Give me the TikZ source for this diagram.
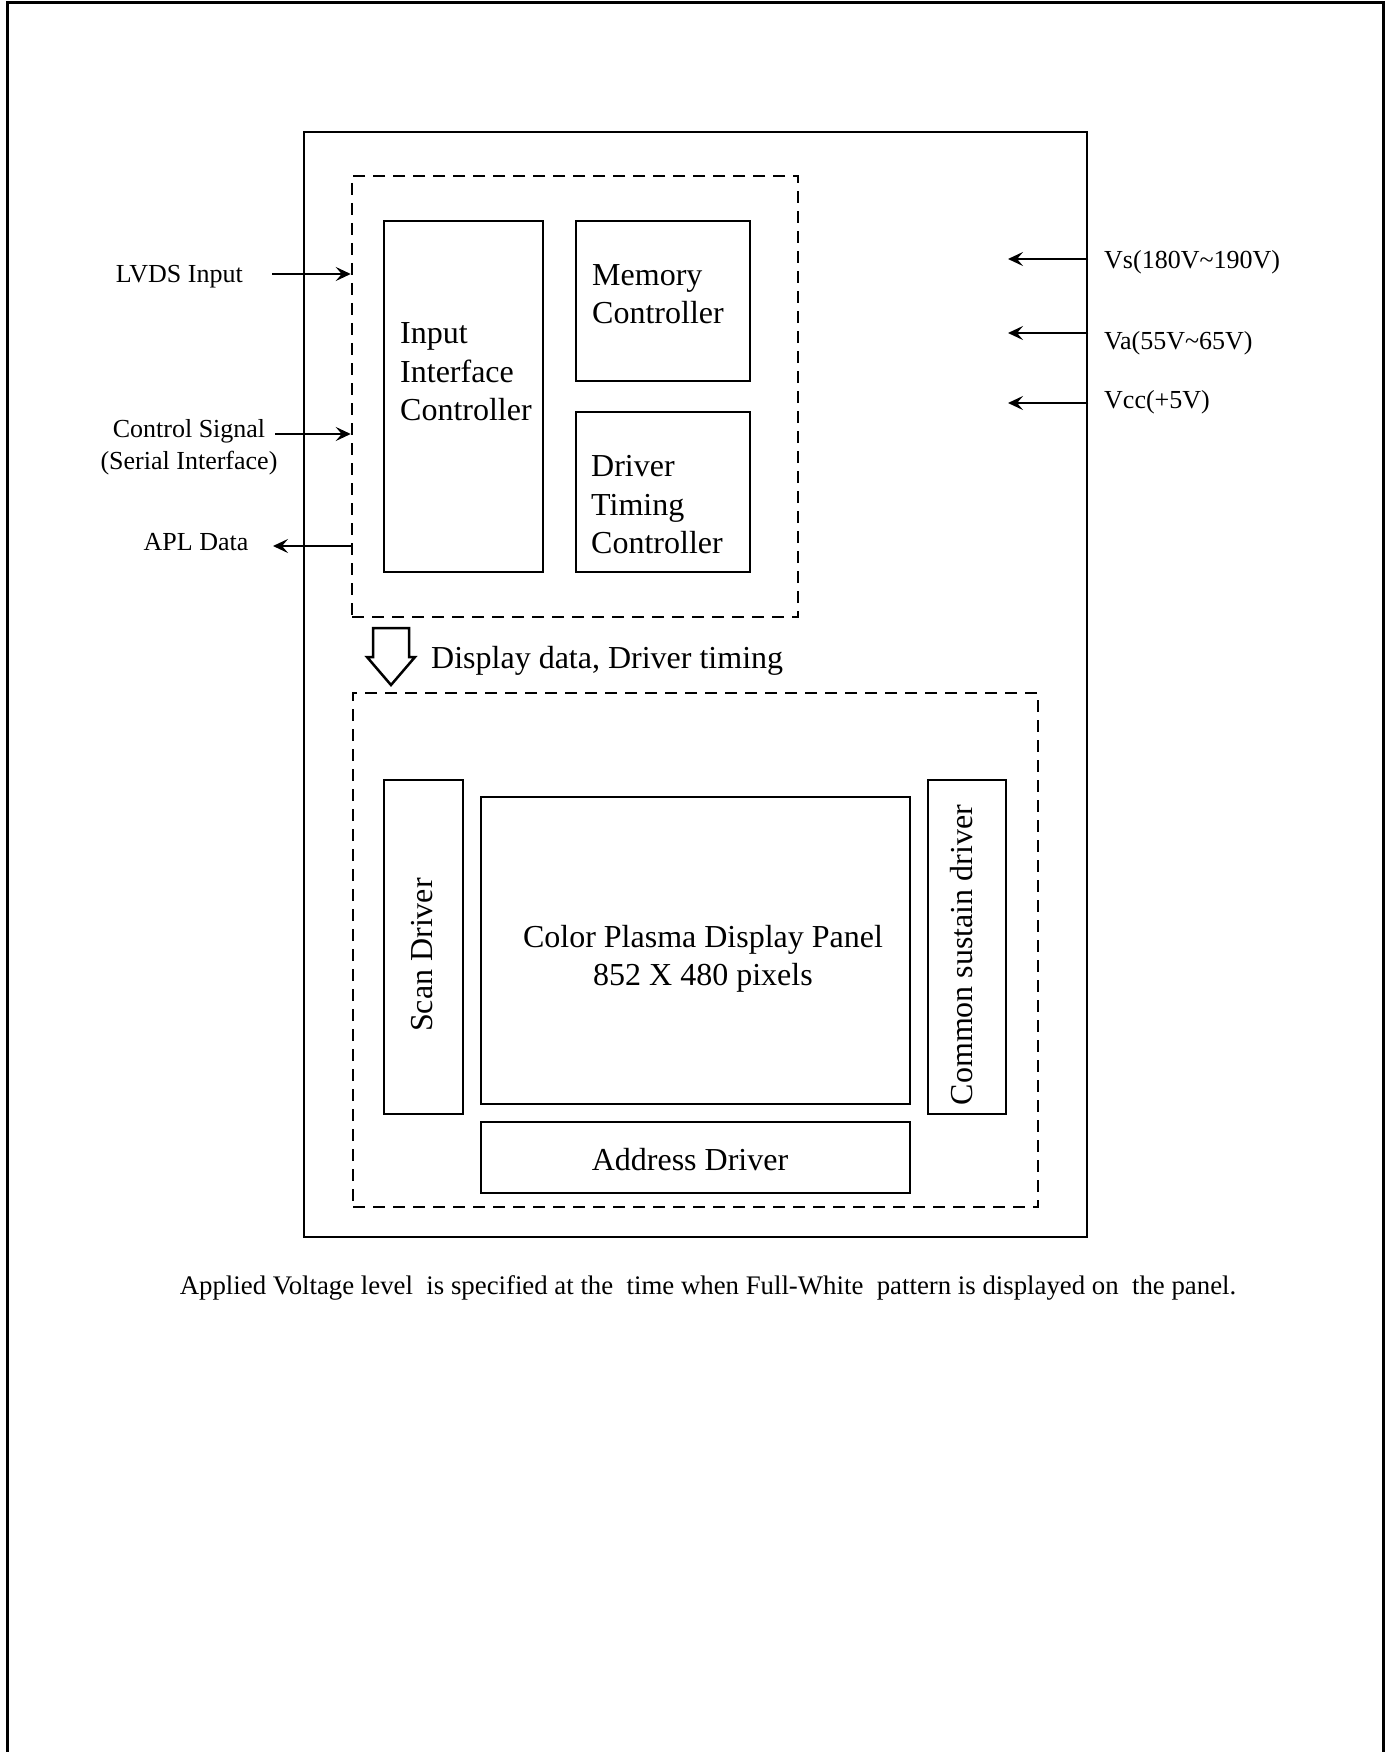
\documentclass[tikz,border=0pt]{standalone}
\usepackage{fontspec}
\setmainfont{Liberation Serif}
\usetikzlibrary{arrows.meta}
\begin{document}
\begin{tikzpicture}[x=1pt,y=-1pt,
	blk/.style={draw, line width=2.5pt, inner sep=0pt},
	grp/.style={draw, line width=2.5pt, dash pattern=on 12pt off 8pt, inner sep=0pt},
	big/.style={font=\fontsize{32}{38.5}\selectfont, inner sep=0pt},
	small/.style={font=\fontsize{26}{32}\selectfont, inner sep=0pt},
	sig/.style={line width=2.5pt, -{Stealth[length=15pt,width=14pt,inset=6pt]}}]
	\useasboundingbox (0,0) rectangle (1388,1752);
	\draw[line width=3pt] (7,1752) -- (7,3) -- (1383,3) -- (1383,1752);
	\node[blk, minimum width=783pt, minimum height=1105pt] (main) at (695.5,684.5) {};
	\node[grp, minimum width=446pt, minimum height=441pt] (top) at (575,396.5) {};
	\node[grp, minimum width=685pt, minimum height=514pt] (bot) at (695.5,950) {};
	\node[blk, minimum width=159pt, minimum height=351pt] (inp) at (463.5,396.5) {};
	\node[blk, minimum width=174pt, minimum height=160pt] (mem) at (663,301) {};
	\node[blk, minimum width=174pt, minimum height=160pt] (tim) at (663,492) {};
	\node[big, align=left, anchor=west] (inptxt) at (400,372) {Input\\Interface\\Controller};
	\node[big, align=left, anchor=west] (memtxt) at (592,294) {Memory\\Controller};
	\node[big, align=left, anchor=west] (timtxt) at (591,505) {Driver\\Timing\\Controller};
	\draw[line width=2.5pt] (373,628) -- (409,628) -- (409,657) -- (415,657) -- (391,685) -- (367,657) -- (373,657) -- cycle;
	\node[big, anchor=west] (flow) at (431,661) {Display data, Driver timing};
	\node[blk, minimum width=79pt, minimum height=334pt] (scan) at (423.5,947) {};
	\node[blk, minimum width=429pt, minimum height=307pt] (panel) at (695.5,950.5) {};
	\node[blk, minimum width=78pt, minimum height=334pt] (com) at (967,947) {};
	\node[blk, minimum width=429pt, minimum height=71pt] (addr) at (695.5,1157.5) {};
	\node[big, rotate=90] (scantxt) at (422,955) {Scan Driver};
	\node[big, align=center] (paneltxt) at (703,959) {Color Plasma Display Panel\\852 X 480 pixels};
	\node[big, rotate=90] (comtxt) at (962,955) {Common sustain driver};
	\node[big] (addrtxt) at (690,1160) {Address Driver};
	\node[small, anchor=east] (lvds) at (243,277) {LVDS Input};
	\node[small, align=center] (ctl) at (189,447) {Control Signal\\(Serial Interface)};
	\node[small] (apl) at (196,542) {APL Data};
	\coordinate (lvdsin) at (272,274);
	\coordinate (ctlin) at (275,434);
	\coordinate (aplout) at (273,546);
	\draw[sig] (lvdsin) -- (lvdsin -| top.west);
	\draw[sig] (ctlin) -- (ctlin -| top.west);
	\draw[sig] (aplout -| top.west) -- (aplout);
	\foreach \i/\ty/\ay/\lbl in {s/262/259/Vs(180V\textasciitilde190V),a/343/333/Va(55V\textasciitilde65V),cc/402/403/Vcc(+5V)} {
		\node[small, anchor=west] (v\i) at (1104,\ty) {\lbl};
		\coordinate (vend\i) at (1008,\ay);
		\draw[sig] (vend\i -| main.east) -- (vend\i);
	}
	\node[small, font=\fontsize{26.8}{32}\selectfont] (note) at (708,1288) {Applied Voltage level\ \ is specified at the\ \ time when Full-White\ \ pattern is displayed on\ \ the panel.};
\end{tikzpicture}
\end{document}
